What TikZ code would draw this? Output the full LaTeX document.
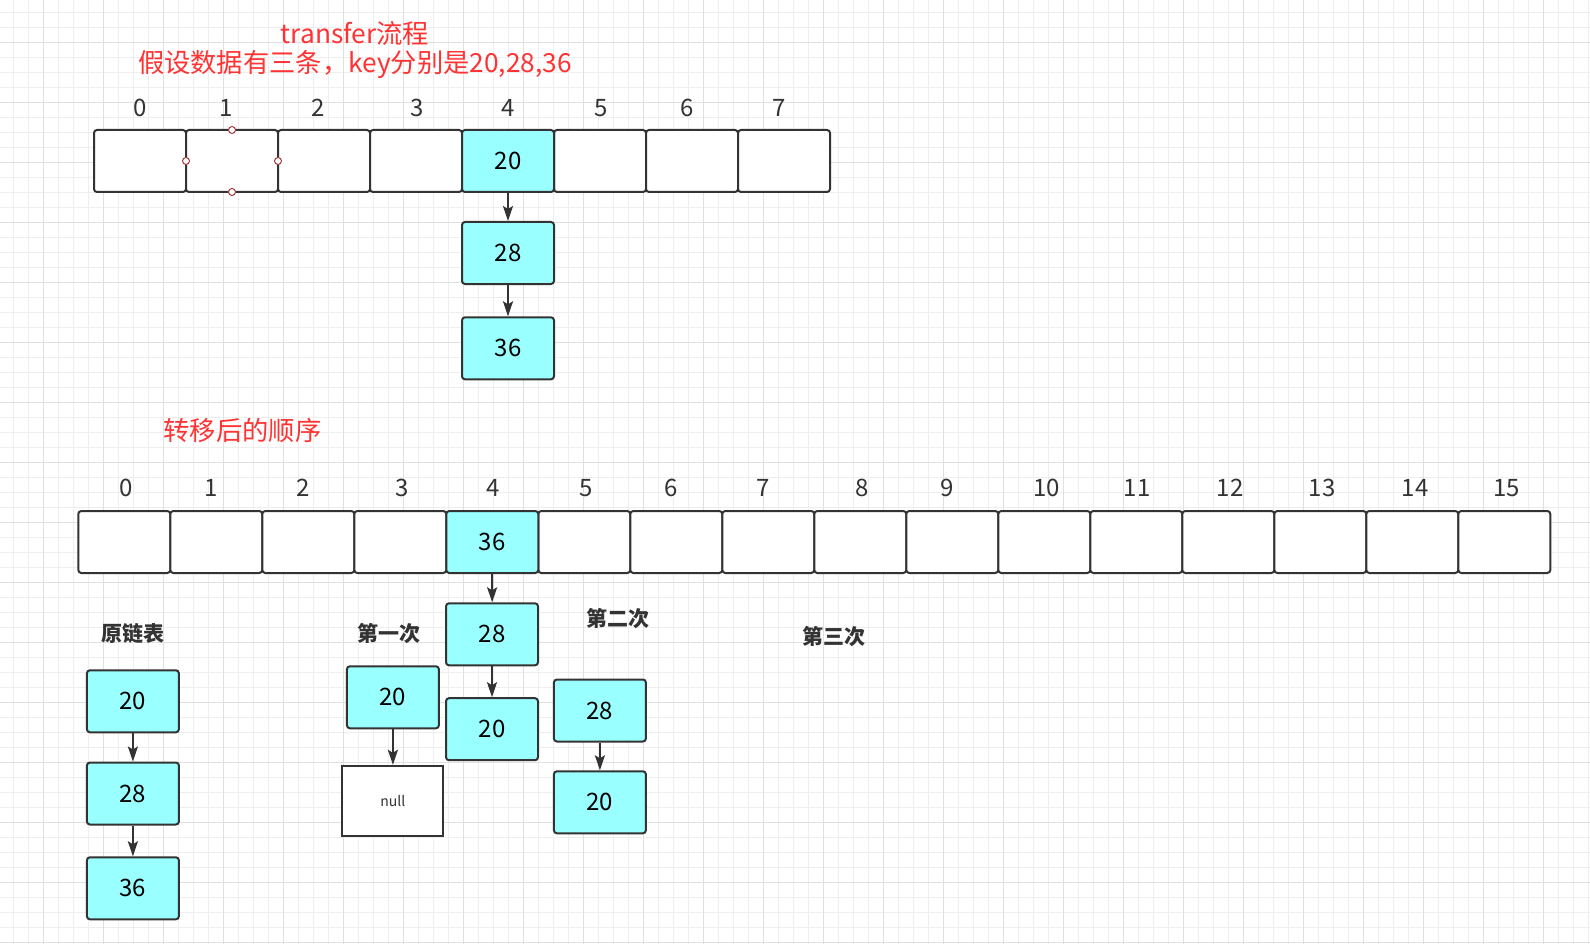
\documentclass[tikz,border=0pt]{standalone}
\usepackage{fontspec}
\setmainfont{Noto Sans CJK SC}
\usetikzlibrary{arrows.meta}
\definecolor{cy}{HTML}{99FFFF}
\definecolor{ln}{HTML}{333333}
\definecolor{rd}{HTML}{FF3333}
\definecolor{gmin}{HTML}{EEEEEE}
\definecolor{gmaj}{HTML}{E0E0E0}
\definecolor{hd}{HTML}{A33A3A}
\begin{document}
\begin{tikzpicture}[x=1pt,y=-1pt,
  cell/.style={draw=ln, line width=2pt, rounded corners=3pt, minimum width=92pt, minimum height=62pt, inner sep=0pt, fill=white, text=black, font=\fontsize{24}{28}\selectfont},
  hot/.style={cell, fill=cy},
  nullbox/.style={draw=ln, line width=2pt, fill=white, minimum width=101pt, minimum height=70pt, inner sep=0pt, text=ln, font=\fontsize{14}{16}\selectfont},
  idx/.style={text=ln, inner sep=0pt, font=\fontsize{24}{28}\selectfont},
  redtxt/.style={text=rd, inner sep=0pt, font=\fontsize{26.3}{30}\selectfont},
  boldlbl/.style={text=ln, inner sep=0pt, font=\fontsize{21}{24}\selectfont\bfseries},
  handle/.style={circle, draw=hd, fill=white, line width=1pt, minimum size=7pt, inner sep=0pt},
  arr/.style={draw=ln, line width=2pt, -{Stealth[length=15pt, width=10pt, inset=3pt]}},
  gridmin/.style={draw=gmin, line width=1pt},
  gridmaj/.style={draw=gmaj, line width=1pt}
]
\useasboundingbox (0,0) rectangle (1590,944);
\fill[white] (0,0) rectangle (1590,944);
% grid
\foreach \i in {0,...,105} \draw[gridmin] ({13.3+15*\i},0) -- ({13.3+15*\i},944);
\foreach \i in {0,...,62} \draw[gridmin] (0,{12.3+15*\i}) -- (1590,{12.3+15*\i});
\foreach \i in {0,...,25} \draw[gridmaj] ({43.3+60*\i},0) -- ({43.3+60*\i},944);
\foreach \i in {0,...,15} \draw[gridmaj] (0,{42.3+60*\i}) -- (1590,{42.3+60*\i});

% titles
\node[redtxt] (title1) at (355,33) {transfer流程};
\node[redtxt] (title2) at (355,65) {假设数据有三条，key分别是20,28,36};
\node[redtxt] (title3) at (242.5,430) {转移后的顺序};

% top array
\foreach \k/\lx in {0/140,1/225.7,2/317.7,3/416.7,4/508,5/601.3,6/686.7,7/779.3} {
  \node[idx] (ti\k) at (\lx,108) {\k};
}
\foreach \k in {0,1,2,3,5,6,7} {
  \node[cell] (t\k) at ({140+92*\k},161) {};
}
\node[hot] (t4) at (508,161) {20};
\node[hot] (tc28) at (508,253) {28};
\node[hot] (tc36) at (508,348.3) {36};
\draw[arr] (t4) -- (tc28);
\draw[arr] (tc28) -- (tc36);
% selection handles on cell 1
\node[handle] (h1) at (232,130) {};
\node[handle] (h2) at (186,161) {};
\node[handle] (h3) at (278,161) {};
\node[handle] (h4) at (232,192) {};

% bottom array
\foreach \k/\lx in {0/125.7,1/211,2/302.7,3/401.7,4/493.3,5/586.1,6/671.3,7/763.6,8/861.7,9/946.7,10/1046.7,11/1137.3,12/1230,13/1322.3,14/1415,15/1506.7} {
  \node[idx] (bi\k) at (\lx,488) {\k};
}
\foreach \k in {0,1,2,3,5,6,7,8,9,10,11,12,13,14,15} {
  \node[cell] (b\k) at ({124.3+92*\k},542) {};
}
\node[hot] (b4) at (492.3,542) {36};
\node[hot] (c28) at (492,634.3) {28};
\node[hot] (c20) at (492,729.2) {20};
\draw[arr] (b4) -- (c28);
\draw[arr] (c28) -- (c20);

% original list
\node[boldlbl] (lblo) at (132.7,633.3) {原链表};
\node[hot] (o20) at (132.9,701.3) {20};
\node[hot] (o28) at (132.9,793.5) {28};
\node[hot] (o36) at (132.9,888.3) {36};
\draw[arr] (o20) -- (o28);
\draw[arr] (o28) -- (o36);

% first
\node[boldlbl] (lbl1) at (389,633.3) {第一次};
\node[hot] (f20) at (392.9,697.3) {20};
\node[nullbox] (fnull) at (392.9,800.8) {null};
\draw[arr] (f20) -- (fnull);

% second
\node[boldlbl] (lbl2) at (617.5,618.3) {第二次};
\node[hot] (s28) at (599.9,710.5) {28};
\node[hot] (s20) at (599.9,802.3) {20};
\draw[arr] (s28) -- (s20);

% third
\node[boldlbl] (lbl3) at (834,636.7) {第三次};
\end{tikzpicture}
\end{document}
